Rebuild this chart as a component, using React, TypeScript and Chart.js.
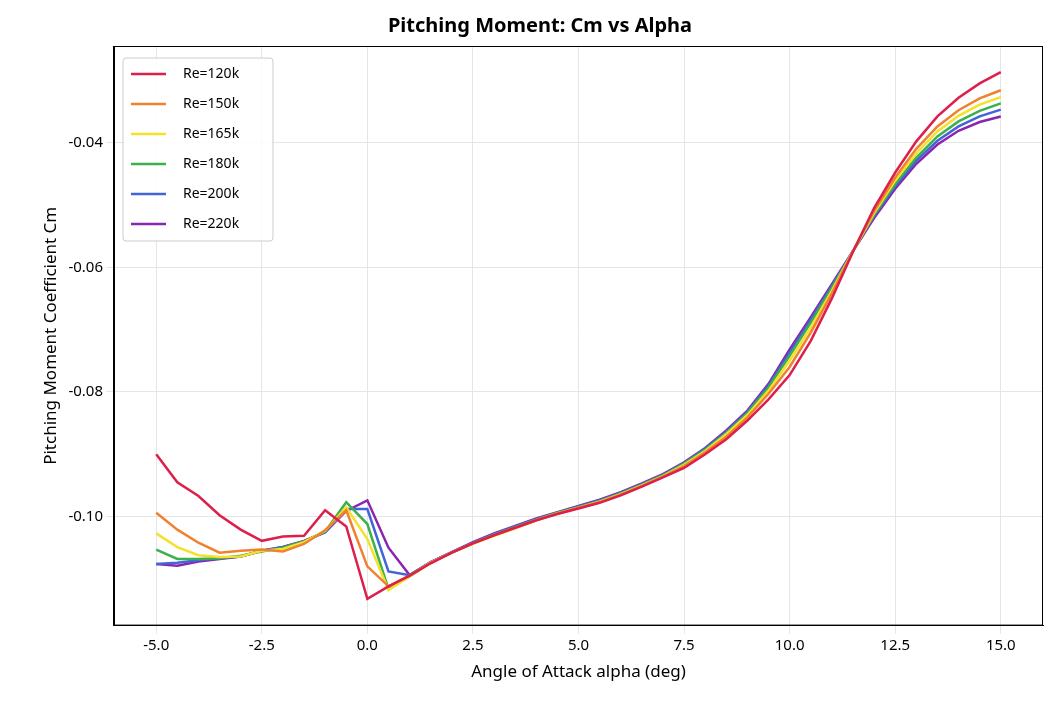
import React, { useEffect, useRef } from "react";
import Chart from "chart.js/auto";

const alpha = [-5,-4.5,-4,-3.5,-3,-2.5,-2,-1.5,-1,-0.5,0,0.5,1,1.5,2,2.5,3,3.5,4,4.5,5,5.5,6,6.5,7,7.5,8,8.5,9,9.5,10,10.5,11,11.5,12,12.5,13,13.5,14,14.5,15];
const seriesNames = ["Re=120k","Re=150k","Re=165k","Re=180k","Re=200k","Re=220k"];
const seriesColors = ["#dc1f4b","#f0812f","#f5e02a","#3cb04a","#4363d8","#8a25b0"];
const re120 = [-0.0900,-0.0945,-0.0967,-0.0998,-0.1021,-0.1039,-0.1032,-0.1031,-0.0990,-0.1016,-0.1132,-0.1112,-0.1095,-0.1075,-0.1058,-0.1043,-0.1030,-0.1018,-0.1006,-0.0996,-0.0987,-0.0978,-0.0966,-0.0952,-0.0937,-0.0922,-0.0900,-0.0876,-0.0846,-0.0812,-0.0773,-0.0718,-0.0650,-0.0575,-0.0505,-0.0448,-0.0398,-0.0358,-0.0328,-0.0305,-0.0287];
const re150 = [-0.0994,-0.1021,-0.1042,-0.1058,-0.1055,-0.1053,-0.1056,-0.1044,-0.1022,-0.0990,-0.1080,-0.1112,-0.1095,-0.1074,-0.1058,-0.1043,-0.1030,-0.1018,-0.1006,-0.0995,-0.0986,-0.0977,-0.0965,-0.0951,-0.0936,-0.0919,-0.0897,-0.0872,-0.0841,-0.0803,-0.0760,-0.0705,-0.0642,-0.0574,-0.0510,-0.0456,-0.0410,-0.0374,-0.0348,-0.0329,-0.0316];
const re165 = [-0.1027,-0.1049,-0.1062,-0.1065,-0.1064,-0.1055,-0.1052,-0.1041,-0.1023,-0.0985,-0.1036,-0.1118,-0.1096,-0.1074,-0.1058,-0.1044,-0.1031,-0.1019,-0.1006,-0.0995,-0.0986,-0.0976,-0.0964,-0.0950,-0.0935,-0.0917,-0.0895,-0.0868,-0.0837,-0.0798,-0.0750,-0.0697,-0.0638,-0.0574,-0.0513,-0.0461,-0.0417,-0.0382,-0.0357,-0.0339,-0.0327];
const re180 = [-0.1053,-0.1068,-0.1068,-0.1067,-0.1063,-0.1056,-0.1050,-0.1040,-0.1024,-0.0977,-0.1012,-0.1116,-0.1096,-0.1074,-0.1058,-0.1043,-0.1029,-0.1017,-0.1005,-0.0994,-0.0985,-0.0975,-0.0963,-0.0949,-0.0934,-0.0915,-0.0893,-0.0866,-0.0834,-0.0793,-0.0742,-0.0689,-0.0633,-0.0574,-0.0516,-0.0466,-0.0424,-0.0390,-0.0366,-0.0349,-0.0337];
const re200 = [-0.1076,-0.1074,-0.1070,-0.1067,-0.1064,-0.1055,-0.1049,-0.1040,-0.1025,-0.0988,-0.0988,-0.1088,-0.1094,-0.1073,-0.1057,-0.1042,-0.1028,-0.1016,-0.1004,-0.0994,-0.0984,-0.0974,-0.0962,-0.0948,-0.0933,-0.0914,-0.0891,-0.0864,-0.0832,-0.0790,-0.0737,-0.0684,-0.0630,-0.0574,-0.0518,-0.0470,-0.0429,-0.0397,-0.0374,-0.0358,-0.0347];
const re220 = [-0.1076,-0.1079,-0.1072,-0.1068,-0.1064,-0.1055,-0.1049,-0.1039,-0.1025,-0.0991,-0.0974,-0.1050,-0.1094,-0.1073,-0.1057,-0.1041,-0.1027,-0.1015,-0.1003,-0.0993,-0.0983,-0.0973,-0.0961,-0.0947,-0.0932,-0.0913,-0.0890,-0.0862,-0.0830,-0.0787,-0.0732,-0.0680,-0.0627,-0.0574,-0.0521,-0.0474,-0.0434,-0.0403,-0.0381,-0.0367,-0.0358];
const allSeries = [re120, re150, re165, re180, re200, re220];

const FONT = "'Noto Sans', 'DejaVu Sans', sans-serif";

const frameLegend = {
  id: "frameLegend",
  afterDatasetsDraw(chart: any) {
    const { ctx, chartArea: a } = chart;
    ctx.save();
    ctx.strokeStyle = "#000";
    ctx.lineWidth = 1;
    ctx.strokeRect(a.left + 0.5, a.top + 0.5, a.right - a.left - 1, a.bottom - a.top - 1);
    const bx = a.left + 9, by = a.top + 12, bw = 150, bh = 183;
    ctx.fillStyle = "rgba(255,255,255,0.85)";
    ctx.strokeStyle = "#ccc";
    ctx.beginPath();
    ctx.roundRect(bx, by, bw, bh, 3);
    ctx.fill();
    ctx.stroke();
    ctx.font = `14px ${FONT}`;
    ctx.textBaseline = "middle";
    seriesNames.forEach((n, i) => {
      const y = by + 16 + i * 30;
      ctx.strokeStyle = seriesColors[i];
      ctx.lineWidth = 2.5;
      ctx.beginPath();
      ctx.moveTo(bx + 8, y);
      ctx.lineTo(bx + 43, y);
      ctx.stroke();
      ctx.fillStyle = "#000";
      ctx.fillText(n, bx + 60, y);
    });
    ctx.restore();
  },
};

export default function App() {
  const ref = useRef<HTMLCanvasElement>(null);
  useEffect(() => {
    const chart = new Chart(ref.current!, {
      type: "line",
      plugins: [frameLegend],
      data: {
        datasets: allSeries.map((s, i) => ({
          label: seriesNames[i],
          data: s.map((v, j) => ({ x: alpha[j], y: v })),
          borderColor: seriesColors[i],
          backgroundColor: seriesColors[i],
          borderWidth: 2.5,
          pointRadius: 0,
          tension: 0,
        })),
      },
      options: {
        animation: false,
        responsive: false,
        layout: { padding: { left: 29, right: 6, bottom: 17 } },
        plugins: {
          title: { display: true, text: "Pitching Moment: Cm vs Alpha", color: "#000", font: { family: FONT, size: 20, weight: "bold" }, padding: { top: 6, bottom: 8 } },
          legend: { display: false },
          tooltip: { enabled: false },
        },
        scales: {
          x: {
            type: "linear", min: -6, max: 16,
            afterBuildTicks: (ax: any) => { ax.ticks = [-5,-2.5,0,2.5,5,7.5,10,12.5,15].map(v => ({ value: v })); },
            ticks: { color: "#000", font: { family: FONT, size: 15 }, callback: (v: any) => Number(v).toFixed(1) },
            grid: { color: "#e5e5e5" },
            border: { color: "#000" },
            title: { display: true, text: "Angle of Attack alpha (deg)", color: "#000", font: { family: FONT, size: 17 } },
          },
          y: {
            type: "linear", min: -0.1175, max: -0.0245,
            afterBuildTicks: (ax: any) => { ax.ticks = [-0.10,-0.08,-0.06,-0.04].map(v => ({ value: v })); },
            ticks: { color: "#000", font: { family: FONT, size: 15 }, callback: (v: any) => Number(v).toFixed(2) },
            grid: { color: "#e5e5e5" },
            border: { color: "#000" },
            title: { display: true, text: "Pitching Moment Coefficient Cm", color: "#000", font: { family: FONT, size: 17 } },
          },
        },
      } as any,
    });
    return () => chart.destroy();
  }, []);
  return <canvas ref={ref} width={1041} height={695} style={{ display: "block" }} />;
}
